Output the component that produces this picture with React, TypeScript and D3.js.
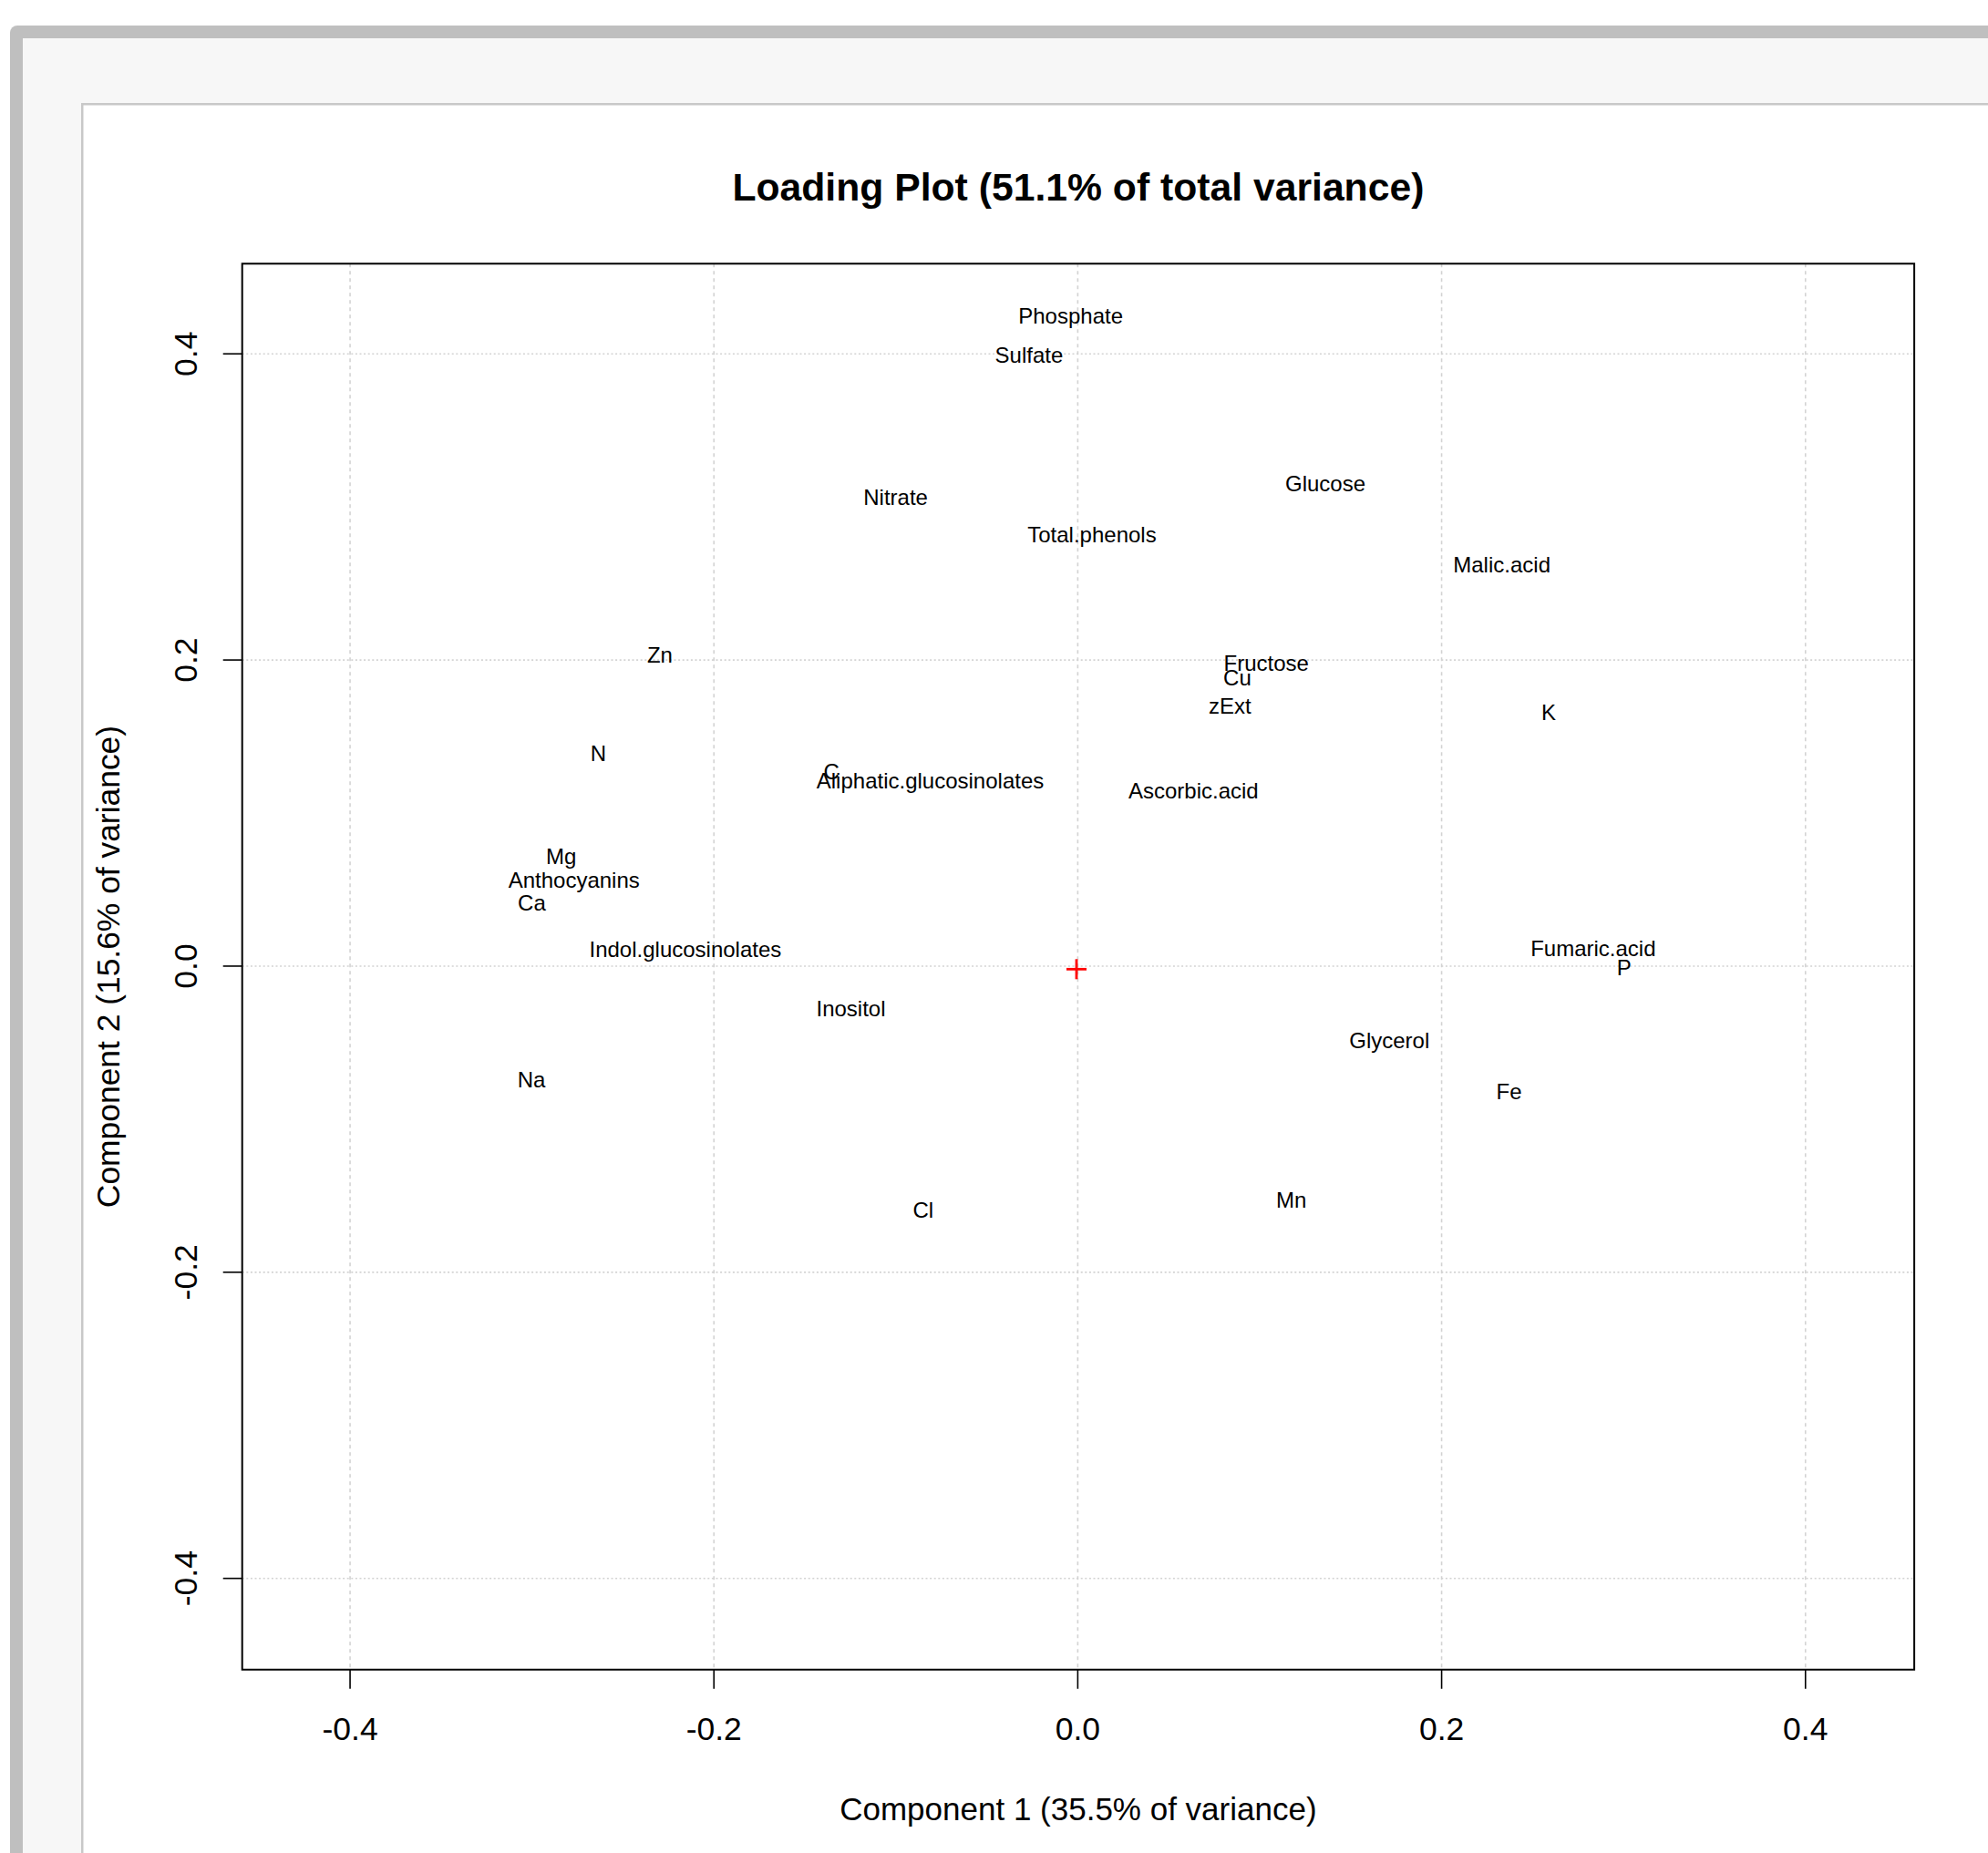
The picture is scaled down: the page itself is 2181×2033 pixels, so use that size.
import React from "react";
import * as d3 from "d3";

const varNames = [
  "Phosphate", "Sulfate", "Nitrate", "Total.phenols", "Glucose", "Malic.acid",
  "Zn", "Fructose", "Cu", "zExt", "K", "N", "C", "Aliphatic.glucosinolates",
  "Ascorbic.acid", "Mg", "Anthocyanins", "Ca", "Indol.glucosinolates",
  "Fumaric.acid", "P", "Inositol", "Glycerol", "Na", "Fe", "Cl", "Mn",
];
const pc1 = [
  -0.0039, -0.0268, -0.1001, 0.0078, 0.1361, 0.2331,
  -0.2297, 0.1036, 0.0877, 0.0836, 0.2589, -0.2635, -0.1354, -0.0811,
  0.0636, -0.2839, -0.2769, -0.3001, -0.2157,
  0.2833, 0.3003, -0.1247, 0.1713, -0.3003, 0.2371, -0.085, 0.1174,
];
const pc2 = [
  0.4247, 0.3993, 0.306, 0.2818, 0.3152, 0.2623,
  0.2034, 0.1982, 0.1884, 0.1702, 0.1655, 0.1389, 0.127, 0.121,
  0.1147, 0.0714, 0.0559, 0.0416, 0.0108,
  0.0114, -0.0008, -0.0279, -0.0488, -0.0745, -0.0819, -0.1592, -0.1529,
];
const originPoint = [-0.0007, -0.002];
const xTicks = [-0.4, -0.2, 0.0, 0.2, 0.4];
const yTicks = [-0.4, -0.2, 0.0, 0.2, 0.4];
const titleText = "Loading Plot (51.1% of total variance)";
const xLabel = "Component 1 (35.5% of variance)";
const yLabel = "Component 2 (15.6% of variance)";

const W = 2181;
const H = 2033;
const L = 265.7, R = 2100.1, T = 289.3, B = 1831.8;
const FONT = "'Liberation Sans', Arial, Helvetica, sans-serif";

export default function App() {
  const x = d3.scaleLinear().domain([-0.4593, 0.4598]).range([L, R]);
  const y = d3.scaleLinear().domain([-0.4596, 0.4589]).range([B, T]);
  const cx = (L + R) / 2;
  const cy = (T + B) / 2;
  const ox = x(originPoint[0]);
  const oy = y(originPoint[1]);
  const fmt = (t: number) => d3.format(".1f")(t).replace("−", "-");
  return (
    <svg
      width={W}
      height={H}
      style={{ position: "absolute", left: 0, top: 0, display: "block" }}
      xmlns="http://www.w3.org/2000/svg"
    >
      <rect x={0} y={0} width={W} height={H} fill="#ffffff" />
      {/* outer window frame */}
      <rect x={11} y={28} width={W + 40} height={H + 40} rx={8} fill="#bfbfbf" />
      <rect x={25} y={42} width={W} height={H} fill="#f7f7f7" />
      <rect x={89} y={113} width={W} height={H} fill="#c8c8c8" />
      <rect x={91.5} y={115.5} width={W} height={H} fill="#ffffff" />

      {/* grid */}
      {xTicks.map((t) => (
        <line
          key={"gx" + t}
          x1={x(t)}
          x2={x(t)}
          y1={T}
          y2={B}
          stroke="#d3d3d3"
          strokeWidth={1.6}
          strokeDasharray="4,4"
        />
      ))}
      {yTicks.map((t) => (
        <line
          key={"gy" + t}
          x1={L}
          x2={R}
          y1={y(t)}
          y2={y(t)}
          stroke="#d3d3d3"
          strokeWidth={1.6}
          strokeDasharray="2,2.6"
        />
      ))}

      {/* origin marker */}
      <line x1={ox - 11} x2={ox + 11} y1={oy} y2={oy} stroke="#ff0000" strokeWidth={2.8} />
      <line x1={ox} x2={ox} y1={oy - 11} y2={oy + 11} stroke="#ff0000" strokeWidth={2.8} />

      {/* labels */}
      {varNames.map((n, i) => (
        <text
          key={n}
          x={x(pc1[i])}
          y={y(pc2[i])}
          dy="0.35em"
          textAnchor="middle"
          fontFamily={FONT}
          fontSize={24}
          fill="#000"
        >
          {n}
        </text>
      ))}

      {/* frame */}
      <rect x={L} y={T} width={R - L} height={B - T} fill="none" stroke="#000" strokeWidth={2} />

      {/* x axis */}
      {xTicks.map((t) => (
        <g key={"xt" + t}>
          <line x1={x(t)} x2={x(t)} y1={B} y2={B + 21} stroke="#000" strokeWidth={1.6} />
          <text
            x={x(t)}
            y={1909}
            textAnchor="middle"
            fontFamily={FONT}
            fontSize={35.5}
            fill="#000"
          >
            {fmt(t)}
          </text>
        </g>
      ))}
      {/* y axis */}
      {yTicks.map((t) => (
        <g key={"yt" + t}>
          <line x1={L - 21} x2={L} y1={y(t)} y2={y(t)} stroke="#000" strokeWidth={1.6} />
          <text
            transform={`translate(216,${y(t)}) rotate(-90)`}
            textAnchor="middle"
            fontFamily={FONT}
            fontSize={35.5}
            fill="#000"
          >
            {fmt(t)}
          </text>
        </g>
      ))}

      {/* titles */}
      <text
        x={cx}
        y={220}
        textAnchor="middle"
        fontFamily={FONT}
        fontWeight="bold"
        fontSize={42.7}
        fill="#000"
      >
        {titleText}
      </text>
      <text x={cx} y={1996.7} textAnchor="middle" fontFamily={FONT} fontSize={35} fill="#000">
        {xLabel}
      </text>
      <text
        transform={`translate(131,${cy}) rotate(-90)`}
        textAnchor="middle"
        fontFamily={FONT}
        fontSize={35.4}
        fill="#000"
      >
        {yLabel}
      </text>
    </svg>
  );
}
